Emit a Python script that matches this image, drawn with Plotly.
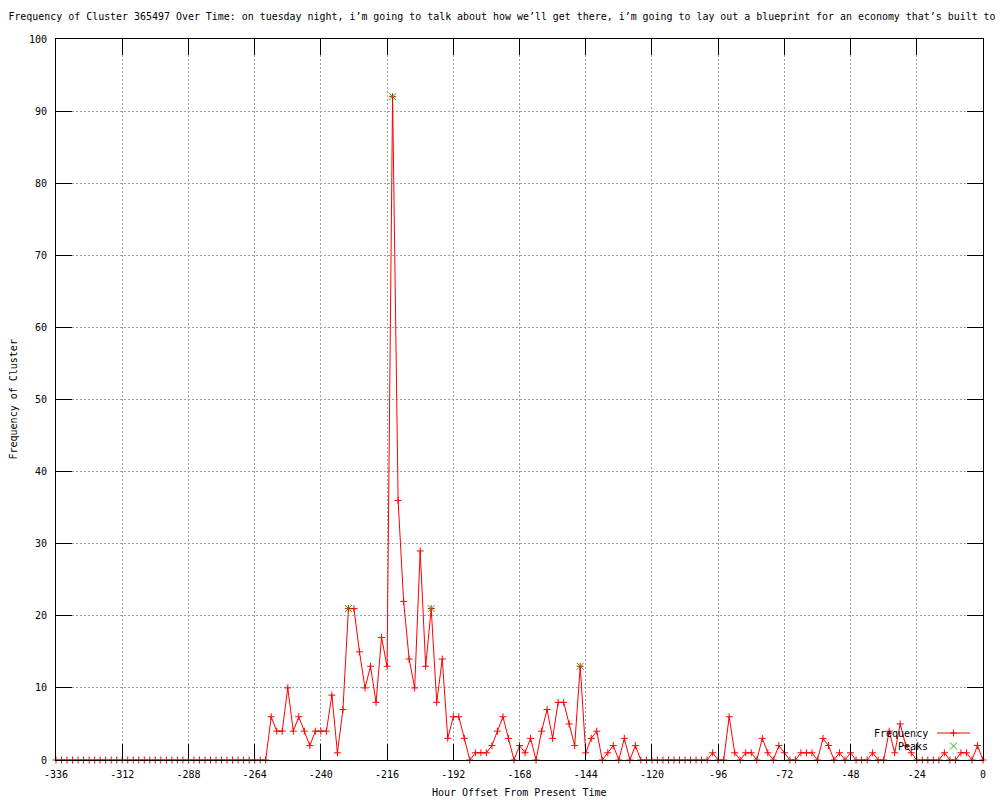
import plotly.graph_objects as go

# ---- data -------------------------------------------------------------
hours = list(range(-336, 1, 2))  # hour offsets, one reading every 2 hours

frequency = (
    [0] * 39 +  # -336 .. -260
    [6, 4, 4, 10, 4, 6, 4, 2, 4, 4, 4, 9, 1, 7, 21, 21, 15, 10, 13, 8, 17, 13,
     92, 36, 22, 14, 10, 29, 13, 21, 8, 14, 3, 6, 6, 3, 0, 1, 1, 1, 2, 4, 6, 3,
     0, 2, 1, 3, 0, 4, 7, 3, 8, 8, 5, 2, 13, 1, 3, 4, 0, 1, 2, 0, 3, 0, 2, 0] +  # -258 .. -124
    [0, 0, 0, 0, 0, 0, 0, 0, 0, 0, 0, 0,  # -122 .. -100
     1, 0, 0, 6, 1, 0, 1, 1, 0, 3, 1, 0, 2, 1, 0, 0, 1, 1, 1, 0, 3, 2, 0, 1,
     0, 1, 0, 0, 0, 1, 0, 0, 4, 1, 5, 2, 1, 0, 0, 0, 0, 0, 1, 0, 0, 1, 1, 0,
     2, 0]  # -98 .. 0
)

peak_hours = [-230, -214, -200, -146]
peak_values = [21, 92, 21, 13]

x_tick_vals = [-336, -312, -288, -264, -240, -216, -192, -168, -144, -120, -96, -72, -48, -24, 0]
x_tick_text = ["-336", "-312", "-288", "-264", "-240", "-216", "-192", "-168",
               "-144", "-120", "-96", "-72", "-48", "-24", "0"]
y_tick_vals = [0, 10, 20, 30, 40, 50, 60, 70, 80, 90, 100]

title_text = ("Frequency of Cluster 365497 Over Time: on tuesday night, i\u2019m going to talk "
              "about how we\u2019ll get there, i\u2019m going to lay out a blueprint for an "
              "economy that\u2019s built to")

# ---- style ------------------------------------------------------------
FONT = "DejaVu Sans Mono"
RED = "#ff0000"
GREEN = "#00c000"
GRID = "#a0a0a0"

W, H = 1000, 800
L, R, T, B = 56, 17, 39, 40
PW, PH = W - L - R, H - T - B


def px(xp):
    return (xp - L) / PW


def py(yp):
    return (H - B - yp) / PH


fig = go.Figure()

fig.add_trace(go.Scatter(
    x=hours, y=frequency, mode="lines+markers", name="Frequency",
    line=dict(color=RED, width=1),
    marker=dict(symbol="cross-thin", size=5, color=RED, line=dict(color=RED, width=1)),
    cliponaxis=False, showlegend=False,
))
fig.add_trace(go.Scatter(
    x=peak_hours, y=peak_values, mode="markers", name="Peaks",
    marker=dict(symbol="x-thin", size=7, color=GREEN, line=dict(color=GREEN, width=1)),
    cliponaxis=False, showlegend=False,
))

axis_common = dict(
    showline=True, linecolor="black", linewidth=1, mirror="ticks",
    ticks="inside", ticklen=16, tickwidth=1, tickcolor="black",
    showgrid=True, gridcolor=GRID, gridwidth=1, griddash="2px,2px",
    zeroline=False, tickfont=dict(family=FONT, size=10, color="black"),
)

fig.update_layout(
    width=W, height=H,
    margin=dict(l=L, r=R, t=T, b=B, pad=0),
    paper_bgcolor="white", plot_bgcolor="white",
    font=dict(family=FONT, size=10, color="black"),
    title=dict(text=title_text, x=0.502, xref="container", xanchor="center",
               y=1 - 17 / H, yref="container", yanchor="middle",
               font=dict(family=FONT, size=9.95, color="black")),
    xaxis=dict(range=[-336, 0], tickvals=x_tick_vals, ticktext=x_tick_text,
               ticklabelstandoff=5, **axis_common),
    yaxis=dict(range=[0, 100], tickvals=y_tick_vals, ticklabelstandoff=6, **axis_common),
    showlegend=False,
)

# axis titles
fig.add_annotation(text="Hour Offset From Present Time", xref="paper", yref="paper",
                   x=0.5, y=py(792), xanchor="center", yanchor="middle",
                   showarrow=False, font=dict(family=FONT, size=10, color="black"))
fig.add_annotation(text="Frequency of Cluster", xref="paper", yref="paper",
                   x=px(13), y=0.5, xanchor="center", yanchor="middle", textangle=-90,
                   showarrow=False, font=dict(family=FONT, size=10, color="black"))

# gnuplot-style key (text to the left of the sample)
fig.add_annotation(text="Frequency", xref="paper", yref="paper",
                   x=px(930), y=py(733), xanchor="right", yanchor="middle",
                   showarrow=False, font=dict(family=FONT, size=10, color="black"))
fig.add_annotation(text="Peaks", xref="paper", yref="paper",
                   x=px(930), y=py(746), xanchor="right", yanchor="middle",
                   showarrow=False, font=dict(family=FONT, size=10, color="black"))
fig.add_shape(type="line", xref="paper", yref="paper",
              x0=px(937), x1=px(970), y0=py(733), y1=py(733),
              line=dict(color=RED, width=1))
fig.add_shape(type="path", xref="paper", yref="paper",
              xsizemode="pixel", ysizemode="pixel",
              xanchor=px(953.5), yanchor=py(733),
              path="M-3.5,0 L3.5,0 M0,-3.5 L0,3.5",
              line=dict(color=RED, width=1))
fig.add_shape(type="path", xref="paper", yref="paper",
              xsizemode="pixel", ysizemode="pixel",
              xanchor=px(953.5), yanchor=py(746),
              path="M-3.5,-3.5 L3.5,3.5 M-3.5,3.5 L3.5,-3.5",
              line=dict(color=GREEN, width=1))

fig.write_html("out.html", config={"displayModeBar": False},
               post_script="document.body.style.margin='0px';")
